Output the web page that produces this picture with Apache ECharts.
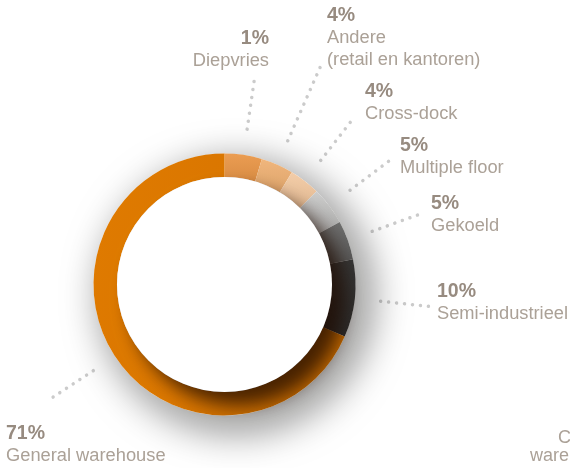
<!DOCTYPE html>
<html>
<head>
<meta charset="utf-8">
<script src="https://cdn.jsdelivr.net/npm/echarts@6/dist/echarts.min.js"></script>
<style>
  html, body { margin: 0; padding: 0; background: #ffffff; }
  #chart { width: 570px; height: 468px; }
</style>
</head>
<body>
<div id="chart"></div>
<script>
// ---- data ----
const categories = ['Diepvries', 'Andere\n(retail en kantoren)', 'Cross-dock', 'Multiple floor', 'Gekoeld', 'Semi-industrieel', 'General warehouse'];
const shareLabels = ['1%', '4%', '4%', '5%', '5%', '10%', '71%'];
const values = [4.6, 4.0, 3.8, 4.7, 4.8, 9.6, 68.5];

// ---- layout / style ----
const CX = 224.5, CY = 284.5, R_IN = 107.5, R_OUT = 131;
const lineInner = 157;
const lineOuter = [207, 238, 207, 207, 207, 207, 207];
const labelPos = [[269, 28, 'right'], [327, 5, 'left'], [365, 81, 'left'], [400, 135, 'left'], [431, 193, 'left'], [437, 281, 'left'], [6, 423, 'left']];

function lg(c0, c1, x2, y2) {
  return { type: 'linear', x: 0, y: 0, x2: x2, y2: y2, colorStops: [{ offset: 0, color: c0 }, { offset: 1, color: c1 }] };
}
const colors = [
  lg('#eb9d52', '#d98c44', 0, 1),
  lg('#f0b67c', '#dea46c', 0, 1),
  lg('#f3cda9', '#e2b993', 0, 1),
  lg('#cdcdcd', '#a9a9a9', 0, 1),
  lg('#6e6e6e', '#555555', 0, 1),
  lg('#353535', '#2a2a2a', 0, 1),
  { type: 'linear', x: 0, y: 0, x2: 1, y2: 0.3, colorStops: [
      { offset: 0, color: '#e07b00' }, { offset: 0.55, color: '#da7600' }, { offset: 1, color: '#c06700' }] }
];

// mid angles (clockwise from 12 o'clock) from the values
const total = values.reduce((a, b) => a + b, 0);
const midAngles = [];
(function () { let c = 0; values.forEach(v => { midAngles.push((c + v / 2) / total * 2 * Math.PI); c += v; }); })();

const FONT = "'Liberation Sans', Arial, sans-serif";
const NAME_C = '#aba197', PCT_C = '#978b80';

const chart = echarts.init(document.getElementById('chart'), null, { renderer: 'canvas' });
chart.setOption({
  animation: false,
  backgroundColor: '#ffffff',
  graphic: [
    { type: 'text', left: 558, top: 429, silent: true, style: { text: 'C', font: '18px ' + FONT, fill: NAME_C } },
    { type: 'text', left: 530, top: 447, silent: true, style: { text: 'ware', font: '18px ' + FONT, fill: NAME_C } }
  ],
  series: [
    {
      type: 'pie', silent: true, center: [CX, CY], radius: [R_IN, R_OUT],
      label: { show: false }, labelLine: { show: false },
      itemStyle: { color: '#ffffff', shadowBlur: 40, shadowColor: 'rgba(0,0,0,0.65)', shadowOffsetX: 12, shadowOffsetY: 12 },
      data: [{ value: 1 }]
    },
    {
      type: 'pie', center: [CX, CY], radius: [R_IN, R_OUT], startAngle: 90, clockwise: true,
      avoidLabelOverlap: false, silent: true,
      emphasis: { disabled: true },
      itemStyle: { borderWidth: 0 },
      data: categories.map((c, i) => ({ name: c, value: values[i], itemStyle: { color: colors[i] } })),
      label: {
        show: true, position: 'outside', fontFamily: FONT,
        formatter: p => '{p|' + shareLabels[p.dataIndex] + '}\n' + p.name.split('\n').map(s => '{n|' + s + '}').join('\n'),
        rich: {
          p: { fontSize: 19.5, fontWeight: 'bold', color: PCT_C, lineHeight: 22, fontFamily: FONT },
          n: { fontSize: 18.3, color: NAME_C, lineHeight: 22, fontFamily: FONT }
        }
      },
      labelLine: { show: true, lineStyle: { color: '#cbcbcb', width: 3.5, type: [0.01, 8], cap: 'round' } },
      labelLayout: function (params) {
        const i = params.dataIndex;
        const a = midAngles[i];
        const x1 = CX + lineInner * Math.sin(a), y1 = CY - lineInner * Math.cos(a);
        const x2 = CX + lineOuter[i] * Math.sin(a), y2 = CY - lineOuter[i] * Math.cos(a);
        return {
          x: labelPos[i][0], y: labelPos[i][1], align: labelPos[i][2], verticalAlign: 'top',
          labelLinePoints: [[x1, y1], [x2, y2], [x2, y2]]
        };
      }
    },
    {
      type: 'pie', silent: true, center: [CX, CY], radius: [0, R_IN],
      label: { show: false }, labelLine: { show: false },
      itemStyle: { color: '#ffffff', shadowBlur: 18, shadowColor: 'rgba(30,10,0,0.75)', shadowOffsetX: 13, shadowOffsetY: 13 },
      data: [{ value: 1 }]
    }
  ]
});
</script>
</body>
</html>
